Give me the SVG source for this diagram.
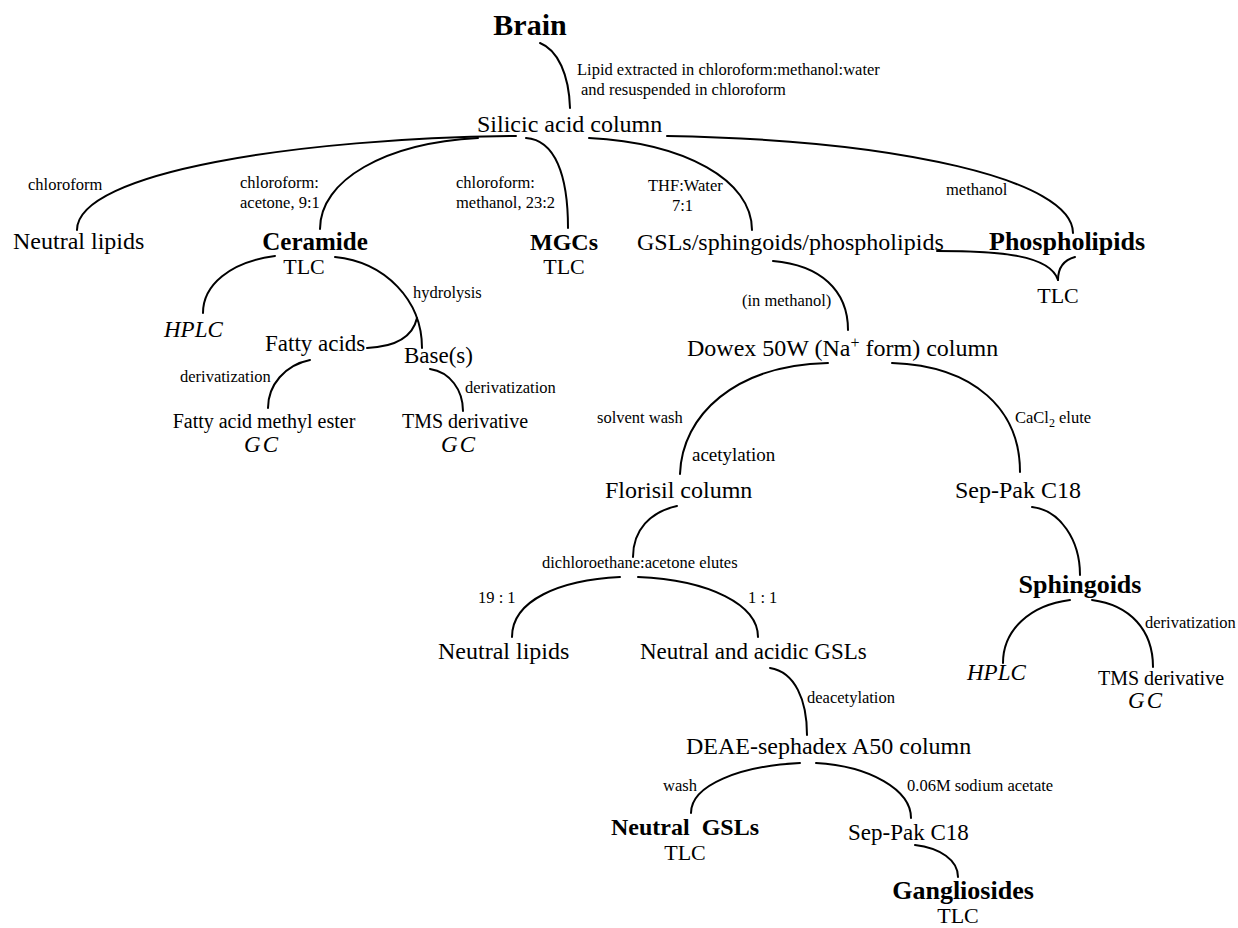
<svg xmlns="http://www.w3.org/2000/svg" width="1238" height="928" viewBox="0 0 1238 928">
<style>
text{font-family:"Liberation Serif","Times New Roman",serif;fill:#000}
.m{font-size:24px}
.b{font-size:25px;font-weight:bold}
.s{font-size:16.5px}
.t{font-size:22px}
.i{font-size:23px;font-style:italic}
.d{font-size:20px}
.c{text-anchor:middle}
.e path{fill:none;stroke:#000;stroke-width:2;stroke-linecap:round}
</style>
<rect width="1238" height="928" fill="#fff"/>
<g id="connectors" class="e">
<path d="M540,43 C558,50 569,75 570,108"/>
<path d="M516,136 C300,138 77,172 77,230"/>
<path d="M478,138 C385,143 320,180 320,229"/>
<path d="M526,138 C555,140 568,175 568,228"/>
<path d="M589,138 C685,143 752,180 752,230"/>
<path d="M667,136 C900,140 1073,180 1073,233"/>
<path d="M937,251 C1000,251 1050,255 1058,280"/>
<path d="M1075,257 C1064,260 1058,268 1058,280"/>
<path d="M773,261 C820,265 848,290 848,330"/>
<path d="M275,256 C230,262 203,285 203,313"/>
<path d="M335,257 C385,262 422,300 422,348"/>
<path d="M417,318 C412,340 390,347 367,348"/>
<path d="M310,360 C285,365 268,385 268,408"/>
<path d="M430,369 C450,372 463,390 463,411"/>
<path d="M828,363 C735,365 682,415 680,474"/>
<path d="M892,363 C975,366 1020,410 1020,472"/>
<path d="M1032,507 C1060,510 1080,540 1080,575"/>
<path d="M1070,600 C1030,605 1003,630 1003,663"/>
<path d="M1092,600 C1130,605 1153,630 1153,667"/>
<path d="M677,506 C650,512 633,530 633,557"/>
<path d="M620,577 C560,580 512,600 512,637"/>
<path d="M638,577 C710,580 758,605 758,637"/>
<path d="M770,668 C795,672 807,700 807,735"/>
<path d="M800,763 C740,766 691,785 691,813"/>
<path d="M816,763 C870,766 911,790 911,818"/>
<path d="M915,845 C940,848 958,860 958,877"/>
<g id="edge-labels">
<text class="s" x="577" y="75">Lipid extracted in chloroform:methanol:water</text>
<text class="s" x="581" y="95">and resuspended in chloroform</text>
<text class="s" x="28" y="190">chloroform</text>
<text class="s" x="240" y="188">chloroform:</text>
<text class="s" x="240" y="208">acetone, 9:1</text>
<text class="s" x="456" y="188">chloroform:</text>
<text class="s" x="456" y="208">methanol, 23:2</text>
<text class="s" x="648" y="191">THF:Water</text>
<text class="s" x="672" y="211">7:1</text>
<text class="s" x="946" y="195">methanol</text>
<text class="s" x="742" y="306">(in methanol)</text>
<text class="s" x="413" y="298">hydrolysis</text>
<text class="s" x="180" y="382">derivatization</text>
<text class="s" x="465" y="393">derivatization</text>
<text class="s" x="597" y="423">solvent wash</text>
<text x="692" y="461" style="font-size:19px">acetylation</text>
<text class="s" x="1015" y="423">CaCl<tspan font-size="12" dy="4">2</tspan><tspan dy="-4"> elute</tspan></text>
<text class="s" x="542" y="568">dichloroethane:acetone elutes</text>
<text class="s" x="478" y="603">19 : 1</text>
<text class="s" x="748" y="603">1 : 1</text>
<text class="s" x="1145" y="628">derivatization</text>
<text class="s" x="807" y="703">deacetylation</text>
<text class="s" x="663" y="791">wash</text>
<text class="s" x="907" y="791">0.06M sodium acetate</text>
</g>
</g>
<g id="n-brain"><text x="530" y="35" class="c" style="font-size:30px;font-weight:bold">Brain</text></g>
<g id="n-silicic"><text class="m" x="477" y="132">Silicic acid column</text></g>
<g id="n-neutral-lipids-1"><text class="m" x="13" y="249">Neutral lipids</text></g>
<g id="n-ceramide"><text class="b c" x="315" y="250">Ceramide</text><text class="t c" x="304" y="274">TLC</text></g>
<g id="n-mgcs"><text class="b c" x="564" y="250" style="font-size:24px">MGCs</text><text class="t c" x="564" y="274">TLC</text></g>
<g id="n-gsls"><text class="m" x="637" y="250">GSLs/sphingoids/phospholipids</text></g>
<g id="n-phospholipids"><text class="b" x="989" y="250" style="font-size:26px">Phospholipids</text></g>
<g id="n-phospho-tlc"><text class="t c" x="1058" y="303">TLC</text></g>
<g id="n-hplc-1"><text class="i" x="164" y="337">HPLC</text></g>
<g id="n-fatty-acids"><text x="265" y="351" style="font-size:23px">Fatty acids</text></g>
<g id="n-bases"><text x="404" y="363" style="font-size:23px">Base(s)</text></g>
<g id="n-fame"><text class="d c" x="264" y="428">Fatty acid methyl ester</text><text class="i c" x="262" y="452" letter-spacing="2">GC</text></g>
<g id="n-tms-1"><text class="d c" x="465" y="428">TMS derivative</text><text class="i c" x="459" y="452" letter-spacing="2">GC</text></g>
<g id="n-dowex"><text class="m" x="687" y="356">Dowex 50W (Na<tspan font-size="16" dy="-8">+</tspan><tspan dy="8"> form) column</tspan></text></g>
<g id="n-florisil"><text class="m" x="605" y="498">Florisil column</text></g>
<g id="n-seppak-1"><text class="m" x="955" y="498">Sep-Pak C18</text></g>
<g id="n-sphingoids"><text class="b c" x="1080" y="593" style="font-size:26px">Sphingoids</text></g>
<g id="n-hplc-2"><text class="i" x="967" y="680">HPLC</text></g>
<g id="n-tms-2"><text class="d c" x="1161" y="685">TMS derivative</text><text class="i c" x="1146" y="708" letter-spacing="2">GC</text></g>
<g id="n-neutral-lipids-2"><text class="m" x="438" y="659">Neutral lipids</text></g>
<g id="n-neutral-acidic"><text class="m" x="640" y="659" style="font-size:23px">Neutral and acidic GSLs</text></g>
<g id="n-deae"><text class="m" x="686" y="754">DEAE-sephadex A50 column</text></g>
<g id="n-neutral-gsls"><text class="b c" x="685" y="835" style="font-size:24px" xml:space="preserve">Neutral  GSLs</text><text class="t c" x="685" y="860">TLC</text></g>
<g id="n-seppak-2"><text class="m" x="848" y="840" style="font-size:23px">Sep-Pak C18</text></g>
<g id="n-gangliosides"><text class="b c" x="963" y="899" style="font-size:26px">Gangliosides</text><text class="t c" x="958" y="923">TLC</text></g>
</svg>
